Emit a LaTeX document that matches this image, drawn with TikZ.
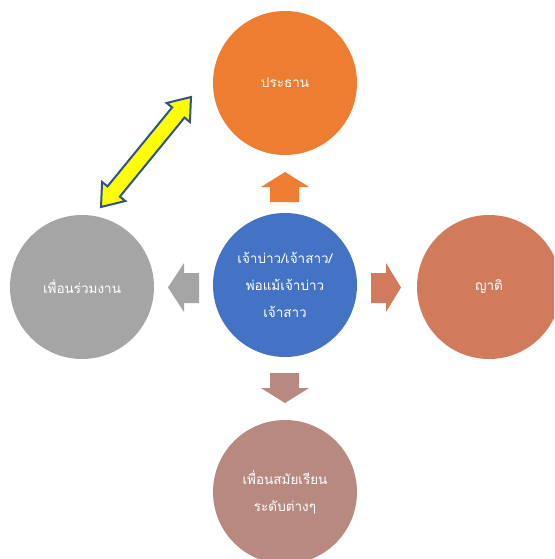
\documentclass[tikz,border=0pt]{standalone}
\usepackage{fontspec}
\newfontfamily\thaifont[Script=Thai]{Loma}
\definecolor{cOrange}{HTML}{ED7D31}
\definecolor{cBlue}{HTML}{4472C4}
\definecolor{cSalmon}{HTML}{D27B5C}
\definecolor{cGray}{HTML}{A5A5A5}
\definecolor{cRose}{HTML}{B88980}
\definecolor{cYellow}{HTML}{FFFF00}
\definecolor{cNavy}{HTML}{2F528F}
\tikzset{
  bubble/.style={circle, minimum size=144pt, inner sep=0pt, text=white, align=center,
    font=\thaifont\fontsize{13.5}{27}\selectfont},
  blockarrow/.style={draw=none}
}
\begin{document}
\begin{tikzpicture}[x=1pt,y=-1pt]
\useasboundingbox (0,0) rectangle (554,559);
\clip (0,0) rectangle (554,559);
\fill[white] (0,0) rectangle (554,559);
% circles
\node[bubble, fill=cOrange] (top) at (285,83) {ประธาน};
\node[bubble, fill=cBlue] (center) at (285,285) {เจ้าบ่าว/เจ้าสาว/\\พ่อแม้เจ้าบ่าว\\เจ้าสาว};
\node[bubble, fill=cSalmon] (right) at (489,287) {ญาติ};
\node[bubble, fill=cGray] (left) at (82,287) {เพื่อนร่วมงาน};
\node[bubble, fill=cRose] (bottom) at (285,492) {เพื่อนสมัยเรียน\\ระดับต่างๆ};
% block arrows
\fill[cOrange] (285,172) -- (309,187) -- (299,187) -- (299,202) -- (270,202) -- (270,187) -- (261,187) -- cycle;
\fill[cRose] (285,403) -- (309,388) -- (299,388) -- (299,373) -- (270,373) -- (270,388) -- (261,388) -- cycle;
\fill[cSalmon] (401,287.5) -- (386,263) -- (386,273) -- (371,273) -- (371,303) -- (386,303) -- (386,312) -- cycle;
\fill[cGray] (168,287.5) -- (184,263) -- (184,273) -- (199,273) -- (199,303) -- (184,303) -- (184,312) -- cycle;
% yellow double arrow
\draw[fill=cYellow, draw=cNavy, line width=2pt, line join=miter]
  (191,97) -- (189.9,122.0) -- (184.5,117.6) -- (119.9,196.6) -- (125.3,201.0)
  -- (101,207) -- (102.1,182.0) -- (107.5,186.4) -- (172.1,107.4) -- (166.7,103.0) -- cycle;
\end{tikzpicture}
\end{document}
